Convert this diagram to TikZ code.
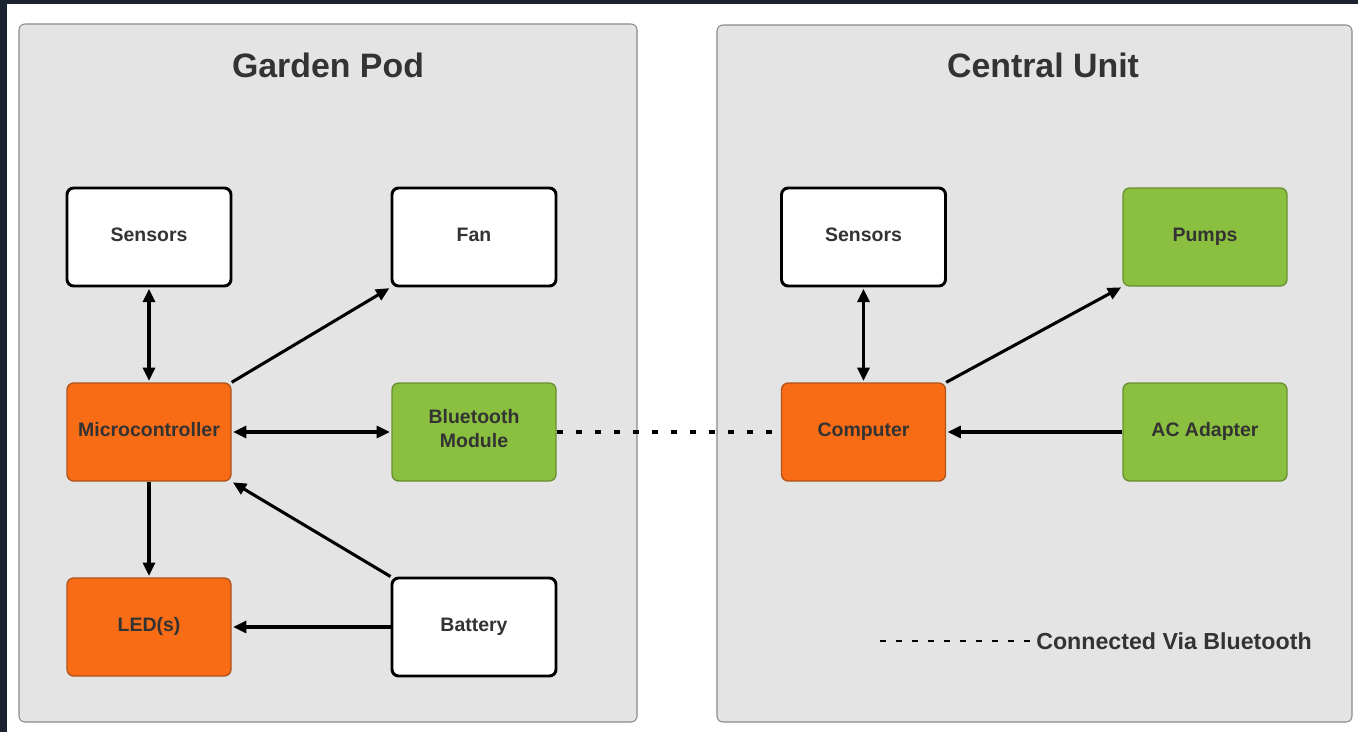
\documentclass[tikz,border=0pt]{standalone}
\usepackage{fontspec}
\setmainfont{Liberation Sans}
\usetikzlibrary{arrows.meta}
\definecolor{darkbg}{HTML}{1B2230}
\definecolor{panel}{HTML}{E4E4E4}
\definecolor{panelline}{HTML}{8A8A8A}
\definecolor{txt}{HTML}{333333}
\definecolor{orng}{HTML}{F76C15}
\definecolor{orngline}{HTML}{B0521A}
\definecolor{grn}{HTML}{8BBF3F}
\definecolor{grnline}{HTML}{6A8F30}
\tikzset{
  panelbox/.style={fill=panel, draw=panelline, line width=0.8pt, rounded corners=4.5pt},
  basebox/.style={minimum width=123pt, minimum height=73.5pt, rounded corners=5pt, align=center,
     font=\bfseries\fontsize{14.6}{17.5}\selectfont, text=txt, inner sep=0pt,
     text height=10pt, text depth=4pt},
  whitebox/.style={basebox, fill=white, draw=black, line width=2.2pt},
  orangebox/.style={basebox, fill=orng, draw=orngline, line width=1pt},
  greenbox/.style={basebox, fill=grn, draw=grnline, line width=1pt},
  conn/.style={line width=2.3pt, draw=black, -{Triangle[length=10pt,width=9pt]}, shorten >=1pt},
  biconn/.style={line width=2.3pt, draw=black, {Triangle[length=10pt,width=9pt]}-{Triangle[length=10pt,width=9pt]}, shorten >=1pt, shorten <=1pt},
  btlink/.style={line width=2.3pt, draw=black, dash pattern=on 4.5pt off 9.75pt},
  legendlink/.style={line width=1.8pt, draw=black, dash pattern=on 4.5pt off 7.5pt},
  titletext/.style={font=\bfseries\fontsize{25.4}{30}\selectfont, text=txt},
}
\begin{document}
\begin{tikzpicture}[x=0.75pt,y=-0.75pt]
\useasboundingbox (0,0) rectangle (1358,732);
\fill[white] (0,0) rectangle (1358,732);
\fill[darkbg] (0,0) rectangle (1358,4);
\fill[darkbg] (0,0) rectangle (7,732);

% panels
\draw[panelbox] (19,24) rectangle (637,722);
\draw[panelbox] (717,25) rectangle (1352,722);
\node[titletext] (t1) at (328,65) {Garden Pod};
\node[titletext] (t2) at (1043,65) {Central Unit};

% left nodes
\node[whitebox] (sensL) at (149,237) {Sensors};
\node[whitebox] (fan) at (474,237) {Fan};
\node[orangebox] (micro) at (149,432) {Microcontroller};
\node[greenbox, text height=26.5pt, text depth=4pt] (bt) at (474,432) {Bluetooth\\Module};
\node[orangebox] (led) at (149,627) {LED(s)};
\node[whitebox] (bat) at (474,627) {Battery};

% right nodes
\node[whitebox] (sensR) at (863.5,237) {Sensors};
\node[greenbox] (pumps) at (1205,237) {Pumps};
\node[orangebox] (comp) at (863.5,432) {Computer};
\node[greenbox] (ac) at (1205,432) {AC Adapter};

% connectors left
\draw[biconn] (sensL.south) -- (micro.north);
\draw[conn] (micro.north east) -- (fan.south west);
\draw[biconn] (micro.east) -- (bt.west);
\draw[conn] (micro.south) -- (led.north);
\draw[conn] (bat.north west) -- (micro.south east);
\draw[conn] (bat.west) -- (led.east);

% bluetooth link
\draw[btlink] (bt.east) -- (comp.west);

% connectors right
\draw[biconn] (sensR.south) -- (comp.north);
\draw[conn] (comp.north east) -- (pumps.south west);
\draw[conn] (ac.west) -- (comp.east);

% legend
\coordinate (lg1) at (880,641);
\node[anchor=west, inner sep=0pt, font=\bfseries\fontsize{17.4}{20}\selectfont, text=txt] (lgtext) at (1036,641) {Connected Via Bluetooth};
\draw[legendlink] (lg1) -- (lgtext.west);
\end{tikzpicture}
\end{document}
